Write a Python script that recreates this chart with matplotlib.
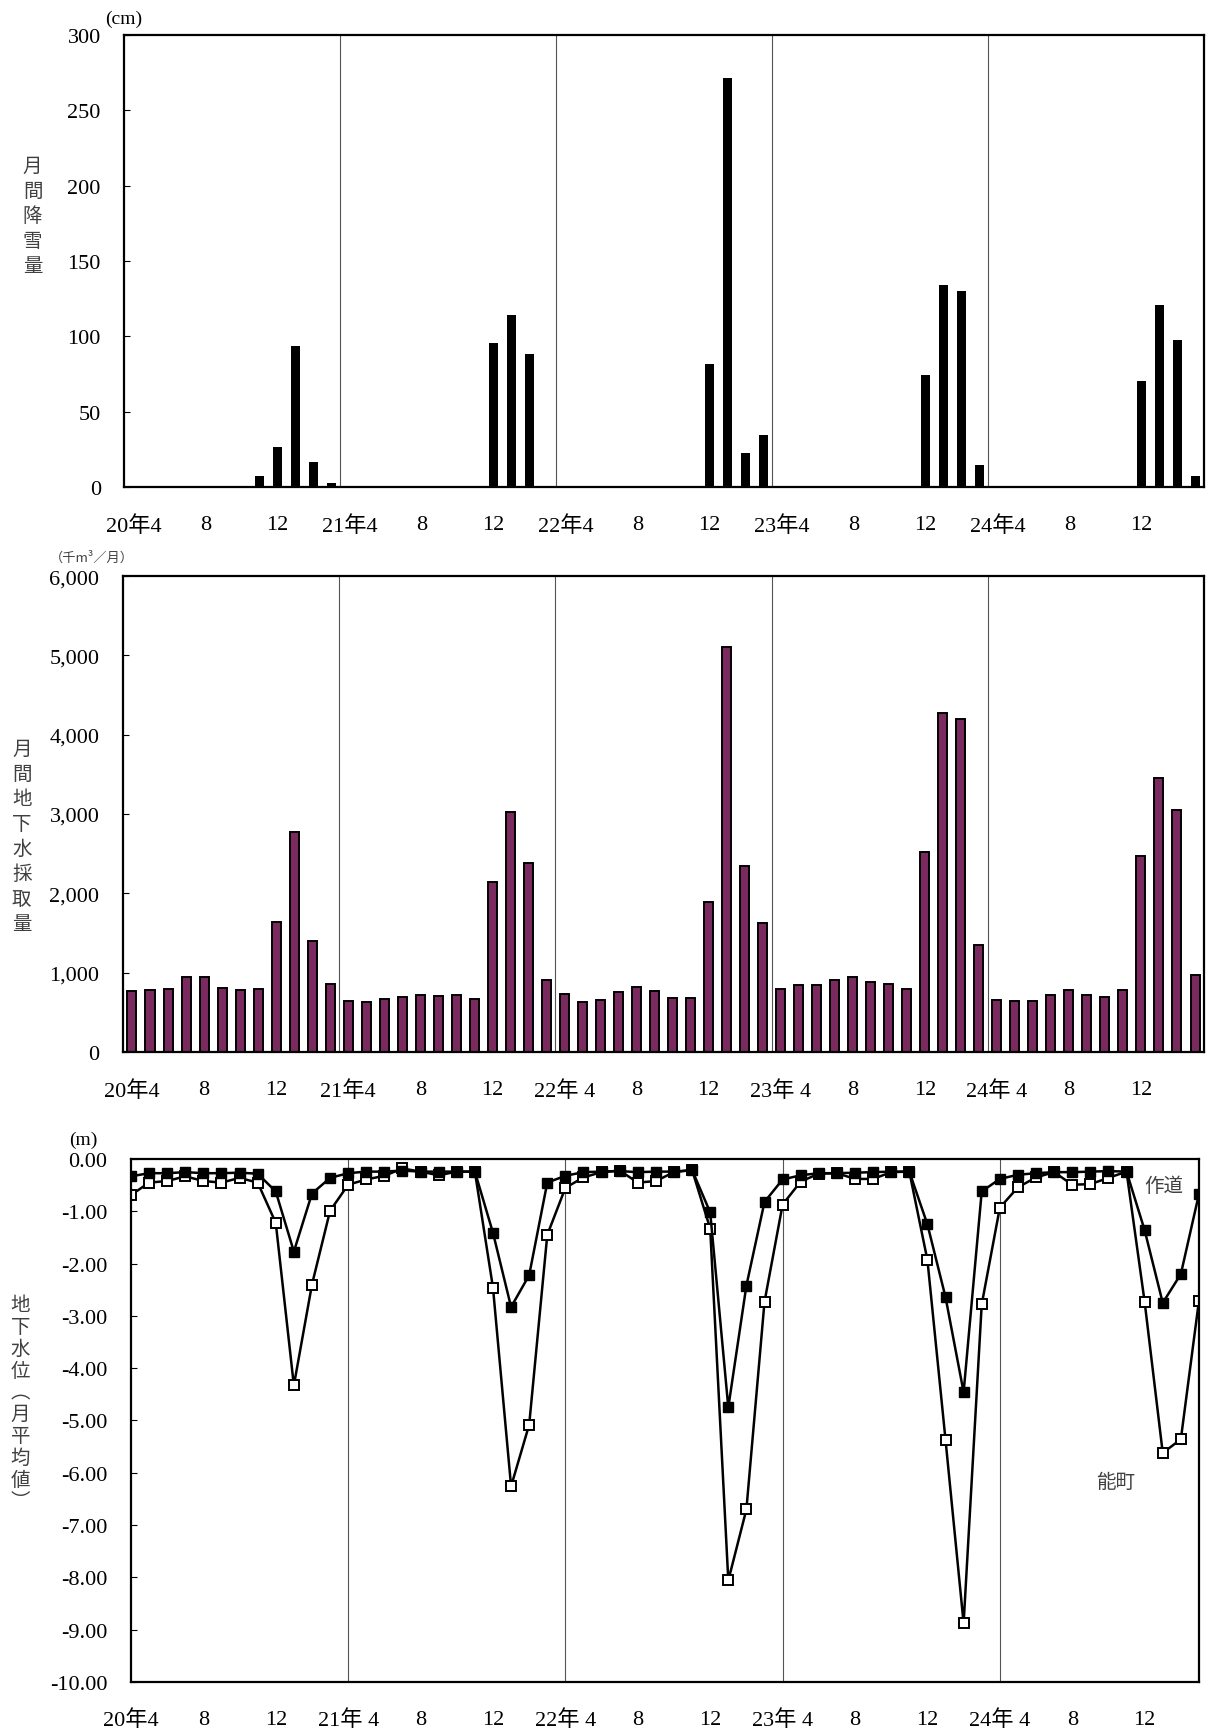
import numpy as np
import matplotlib
matplotlib.use('Agg')
import matplotlib.pyplot as plt
from matplotlib.ticker import FuncFormatter

plt.rcParams['font.family'] = ['Liberation Serif', 'Noto Sans CJK JP']

months = np.arange(60)

# monthly snowfall (cm), 20年4 .. 25年3
snow = [0, 0, 0, 0, 0, 0, 0, 7.6, 26.8, 93.6, 16.6, 2.8,
        0, 0, 0, 0, 0, 0, 0, 0, 95.5, 114.5, 88.6, 0,
        0, 0, 0, 0, 0, 0, 0, 0, 81.5, 271.3, 22.7, 34.6,
        0, 0, 0, 0, 0, 0, 0, 0, 74.6, 134.4, 130.3, 14.7,
        0, 0, 0, 0, 0, 0, 0, 0, 70.6, 120.6, 97.4, 7.6]

# monthly groundwater pumping (千m3/月)
pump = [774, 783, 796, 948, 943, 804, 783, 796, 1635, 2778, 1404, 861,
        643, 635, 665, 696, 717, 704, 713, 670, 2148, 3026, 2383, 904,
        735, 635, 657, 757, 817, 770, 683, 683, 1887, 5104, 2348, 1622,
        800, 839, 839, 909, 939, 878, 852, 791, 2517, 4270, 4204, 1343,
        661, 648, 648, 722, 783, 713, 687, 783, 2474, 3457, 3052, 965]

# groundwater level, monthly mean (m)
sakudo = [-0.33, -0.27, -0.27, -0.25, -0.27, -0.27, -0.26, -0.28, -0.62, -1.77, -0.66, -0.36,
          -0.27, -0.24, -0.24, -0.22, -0.24, -0.24, -0.24, -0.24, -1.41, -2.83, -2.22, -0.45,
          -0.32, -0.25, -0.24, -0.23, -0.25, -0.24, -0.24, -0.21, -1.02, -4.75, -2.42, -0.82,
          -0.39, -0.31, -0.27, -0.27, -0.26, -0.25, -0.24, -0.24, -1.25, -2.64, -4.46, -0.62,
          -0.38, -0.30, -0.27, -0.25, -0.25, -0.24, -0.23, -0.24, -1.36, -2.75, -2.20, -0.67]
nomachi = [-0.69, -0.45, -0.42, -0.33, -0.42, -0.45, -0.36, -0.45, -1.22, -4.33, -2.40, -0.99,
           -0.49, -0.39, -0.32, -0.18, -0.24, -0.31, -0.24, -0.24, -2.46, -6.26, -5.08, -1.45,
           -0.55, -0.35, -0.25, -0.22, -0.45, -0.42, -0.25, -0.21, -1.33, -8.06, -6.70, -2.73,
           -0.87, -0.43, -0.28, -0.27, -0.38, -0.38, -0.25, -0.24, -1.93, -5.37, -8.88, -2.78,
           -0.93, -0.54, -0.35, -0.25, -0.49, -0.48, -0.36, -0.24, -2.73, -5.62, -5.36, -2.71]

tick_pos = list(range(0, 60, 4))
labels1 = ['20年4', '8', '12', '21年4', '8', '12', '22年4', '8', '12',
           '23年4', '8', '12', '24年4', '8', '12']
labels2 = ['20年4', '8', '12', '21年4', '8', '12', '22年 4', '8', '12',
           '23年 4', '8', '12', '24年 4', '8', '12']
labels3 = ['20年4', '8', '12', '21年 4', '8', '12', '22年 4', '8', '12',
           '23年 4', '8', '12', '24年 4', '8', '12']
year_starts = [12, 24, 36, 48]

gray = '#404040'
tfs = 16

fig = plt.figure(figsize=(12.08, 17.33), dpi=100)


def style(ax):
    for s in ax.spines.values():
        s.set_linewidth(1.6)
        s.set_color('black')
    ax.tick_params(axis='y', direction='in', length=4, width=0.8, pad=17, labelsize=tfs)
    ax.tick_params(axis='x', length=0, pad=20, labelsize=tfs)


def vtitle(x, y, chars, ls=1.25):
    fig.text(x, y, '\n'.join(chars), ha='center', va='center', fontsize=14,
             color=gray, family=['Noto Sans CJK JP'], linespacing=ls)


# ---- panel 1: snowfall
ax1 = fig.add_axes([0.1030, 0.7184, 0.8940, 0.2608])
ax1.bar(months, snow, width=0.5, color='black')
ax1.set_xlim(-0.5, 59.5)
ax1.set_ylim(0, 300)
ax1.set_yticks(range(0, 301, 50))
ax1.set_xticks(tick_pos)
ax1.set_xticklabels(labels1)
for x in year_starts:
    ax1.axvline(x - 0.5, color='#555555', lw=0.8)
style(ax1)
fig.text(0.102, 0.989, '(cm)', ha='center', va='center', fontsize=14)
vtitle(0.027, 0.875, '月間降雪量')

# ---- panel 2: pumping
ax2 = fig.add_axes([0.1018, 0.3924, 0.8949, 0.2746])
ax2.bar(months, pump, width=0.5, color='#7a2a5f', edgecolor='black', linewidth=1.4)
ax2.set_xlim(-0.5, 59.5)
ax2.set_ylim(0, 6000)
ax2.set_yticks(range(0, 6001, 1000))
ax2.yaxis.set_major_formatter(FuncFormatter(lambda v, p: f'{int(v):,}'))
ax2.set_xticks(tick_pos)
ax2.set_xticklabels(labels2)
for x in year_starts:
    ax2.axvline(x - 0.5, color='#555555', lw=0.8)
style(ax2)
fig.text(0.076, 0.678, '（千m³／月）', ha='center', va='center', fontsize=9.5,
         color=gray, family=['Noto Sans CJK JP'])
vtitle(0.018, 0.517, '月間地下水採取量')

# ---- panel 3: groundwater level
ax3 = fig.add_axes([0.1084, 0.0289, 0.8841, 0.3017])
for x in year_starts:
    ax3.axvline(x, color='#555555', lw=0.8)
ax3.plot(months, nomachi, color='black', lw=1.8, marker='s', ms=7,
         mfc='white', mec='black', mew=1.4)
ax3.plot(months, sakudo, color='black', lw=1.8, marker='s', ms=7,
         mfc='black', mec='black')
ax3.set_xlim(0, 59)
ax3.set_ylim(-10, 0)
ax3.set_yticks(np.arange(-10, 0.1, 1))
ax3.yaxis.set_major_formatter(FuncFormatter(lambda v, p: f'{v:.2f}'))
ax3.set_xticks(tick_pos)
ax3.set_xticklabels(labels3)
style(ax3)
ax3.text(1164 / 1208, 1 - 1187 / 1733, '作道', transform=fig.transFigure,
         ha='center', va='center', fontsize=14, color=gray, family=['Noto Sans CJK JP'])
ax3.text(1116 / 1208, 1 - 1483 / 1733, '能町', transform=fig.transFigure,
         ha='center', va='center', fontsize=14, color=gray, family=['Noto Sans CJK JP'])
fig.text(0.069, 1 - 1140 / 1733, '(m)', ha='center', va='center', fontsize=14)
vtitle(0.017, 0.19, '地下水位︵月平均値︶', ls=1.05)

fig.savefig('out.png', dpi=100)
